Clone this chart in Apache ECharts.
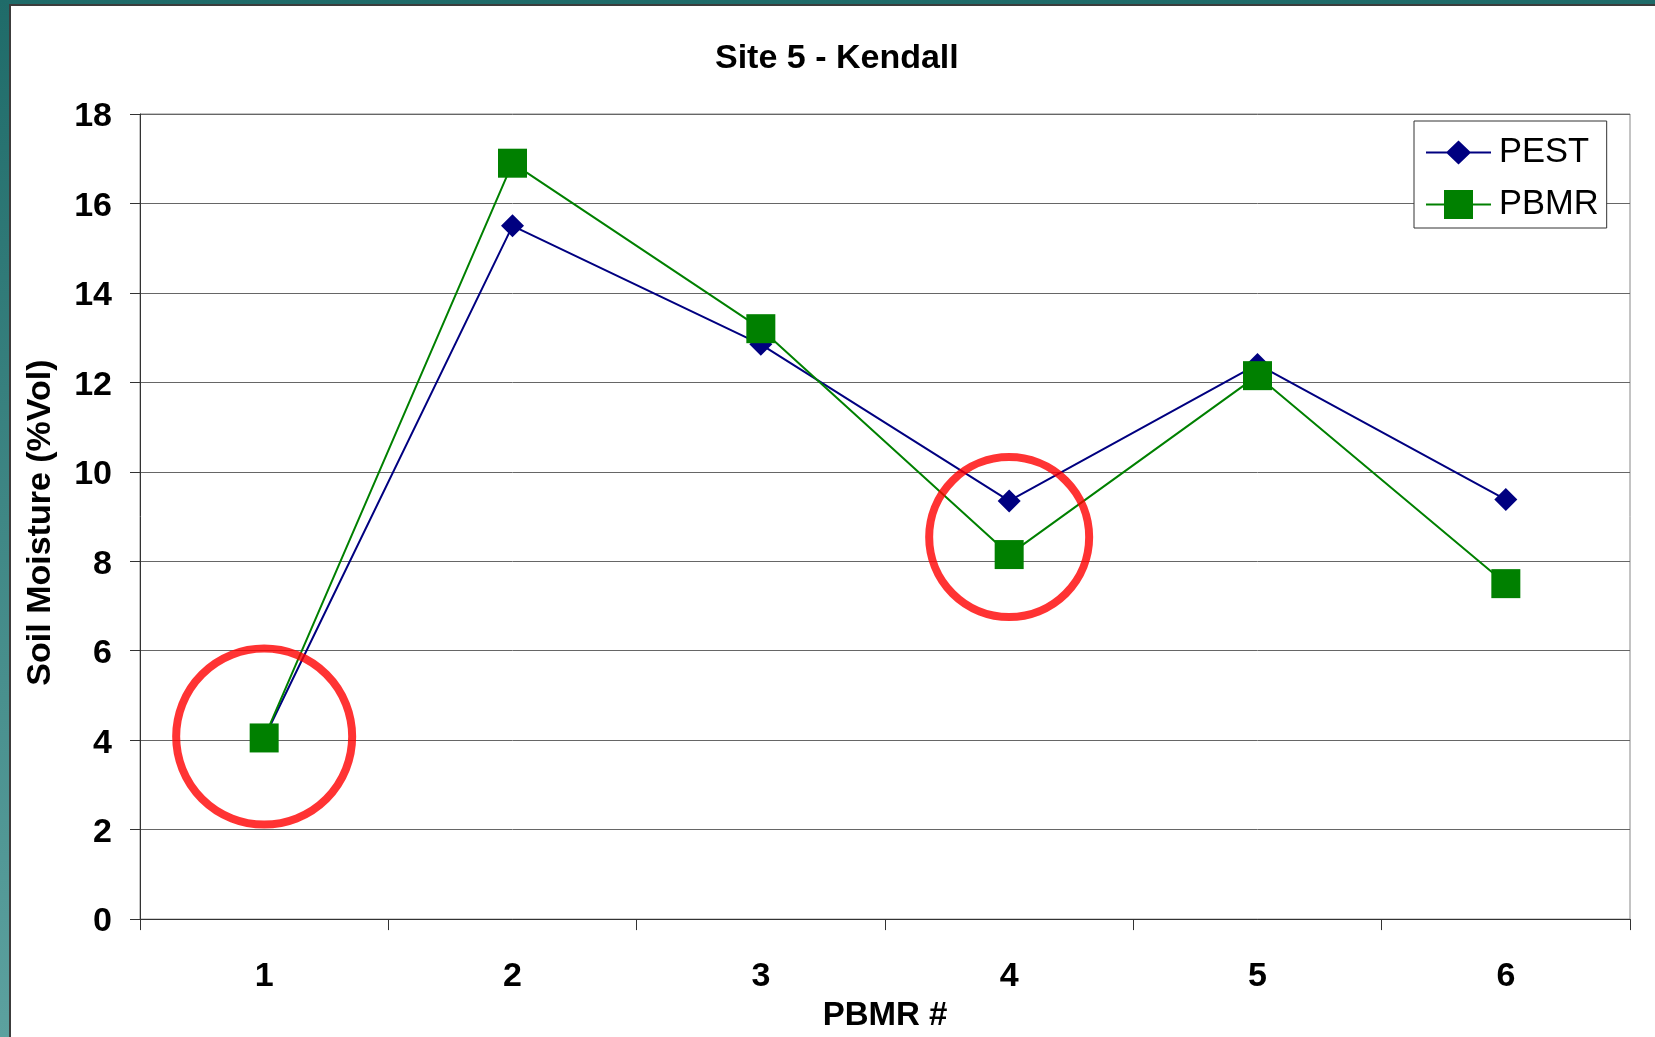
<!DOCTYPE html>
<html><head><meta charset="utf-8">
<script src="https://cdn.jsdelivr.net/npm/echarts@6/dist/echarts.min.js"></script>
<style>
html,body{margin:0;padding:0;width:1655px;height:1037px;overflow:hidden;background:linear-gradient(to bottom,#1f6b69 0%,#3f8785 50%,#5ca19f 100%);}
#frame{position:absolute;left:9px;top:4px;width:1646px;height:1033px;background:#fff;border-left:2px solid #3c3c3c;border-top:2px solid #3c3c3c;box-sizing:border-box;}
#chart{position:absolute;left:0;top:0;width:1655px;height:1037px;}
</style></head><body>
<div id="frame"></div><div id="chart"></div>
<script>
// ---- data ----
const categories = ['1', '2', '3', '4', '5', '6'];
const pestValues = [4.05, 15.5, 12.85, 9.35, 12.4, 9.38];
const pbmrValues = [4.05, 16.9, 13.2, 8.15, 12.15, 7.5];
const yTickValues = [0, 2, 4, 6, 8, 10, 12, 14, 16, 18];
const highlightCenters = [['1', 4.08], ['4', 8.54]];
const titleText = 'Site 5 - Kendall';
const xAxisName = 'PBMR #';
const yAxisName = 'Soil Moisture (%Vol)';
const seriesNames = ['PEST', 'PBMR'];

// ---- styling ----
const FONT = '"Liberation Sans", Arial, sans-serif';
const circleDiameters = [176, 160];
const pestIcon = 'path://M0 0L0.01 0L0 0.01Z M65 29L64.99 29L65 28.99Z M0 13.5L21 13.5L32.5 2.5L44 13.5L65 13.5L65 15.5L44 15.5L32.5 26.5L21 15.5L0 15.5Z';
const pbmrIcon = 'path://M0 13.5L18 13.5L18 0L47 0L47 13.5L65 13.5L65 15.5L47 15.5L47 29L18 29L18 15.5L0 15.5Z';

const chart = echarts.init(document.getElementById('chart'), null, {renderer: 'canvas'});
chart.setOption({
  backgroundColor: 'transparent',
  animation: false,
  title: {
    text: titleText, left: 715, top: 42, padding: 0,
    textStyle: {fontFamily: FONT, fontSize: 34, fontWeight: 'bold', color: '#000'}
  },
  legend: {
    orient: 'vertical', left: 1414, top: 121,
    padding: [14, 8, 6, 12],
    itemWidth: 65, itemHeight: 29, itemGap: 17,
    backgroundColor: '#fff', borderColor: '#333', borderWidth: 1,
    textStyle: {fontFamily: FONT, fontSize: 34.5, color: '#000', padding: [0, 0, 0, 3]},
    data: [
      {name: seriesNames[0], icon: pestIcon},
      {name: seriesNames[1], icon: pbmrIcon}
    ]
  },
  grid: {left: 140, top: 114, width: 1490, height: 807, show: true, borderColor: '#888', borderWidth: 1, backgroundColor: 'transparent'},
  xAxis: {
    type: 'category', data: categories, boundaryGap: true,
    name: xAxisName, nameLocation: 'middle', nameGap: 72,
    nameTextStyle: {fontFamily: FONT, fontSize: 33, fontWeight: 'bold', color: '#000'},
    axisLine: {lineStyle: {color: '#333', width: 1}},
    axisTick: {show: true, length: 11, lineStyle: {color: '#333'}},
    axisLabel: {fontFamily: FONT, fontSize: 34, fontWeight: 'bold', color: '#000', margin: 41},
    splitLine: {show: false}
  },
  yAxis: {
    type: 'value',
    min: yTickValues[0], max: yTickValues[yTickValues.length - 1],
    interval: yTickValues[1] - yTickValues[0],
    name: yAxisName, nameLocation: 'middle', nameGap: 82,
    nameTextStyle: {fontFamily: FONT, fontSize: 34, fontWeight: 'bold', color: '#000', padding: [0, 12, 0, 0]},
    axisLine: {show: true, lineStyle: {color: '#333', width: 1}},
    axisTick: {show: true, length: 10, lineStyle: {color: '#333'}},
    axisLabel: {
      margin: 28,
      formatter: '{v|{value}}',
      rich: {v: {fontFamily: FONT, fontSize: 34, fontWeight: 'bold', color: '#000', padding: [6, 0, 0, 0]}}
    },
    splitLine: {show: true, lineStyle: {color: '#666', width: 1}}
  },
  series: [
    {
      name: seriesNames[0], type: 'line', data: pestValues,
      symbol: 'diamond', symbolSize: 23,
      lineStyle: {color: '#000080', width: 2},
      itemStyle: {color: '#000080', borderWidth: 0},
      emphasis: {disabled: true}, z: 3
    },
    {
      name: seriesNames[1], type: 'line', data: pbmrValues,
      symbol: 'rect', symbolSize: 29,
      lineStyle: {color: '#008000', width: 2},
      itemStyle: {color: '#008000', borderWidth: 0},
      emphasis: {disabled: true}, z: 4
    },
    {
      name: 'highlight', type: 'scatter', data: highlightCenters,
      symbol: 'circle',
      symbolSize: (val, params) => circleDiameters[params.dataIndex],
      itemStyle: {color: 'rgba(0,0,0,0)', borderColor: '#ff0000', borderWidth: 8},
      emphasis: {disabled: true}, silent: true, z: 5
    }
  ]
});
</script>
</body></html>
